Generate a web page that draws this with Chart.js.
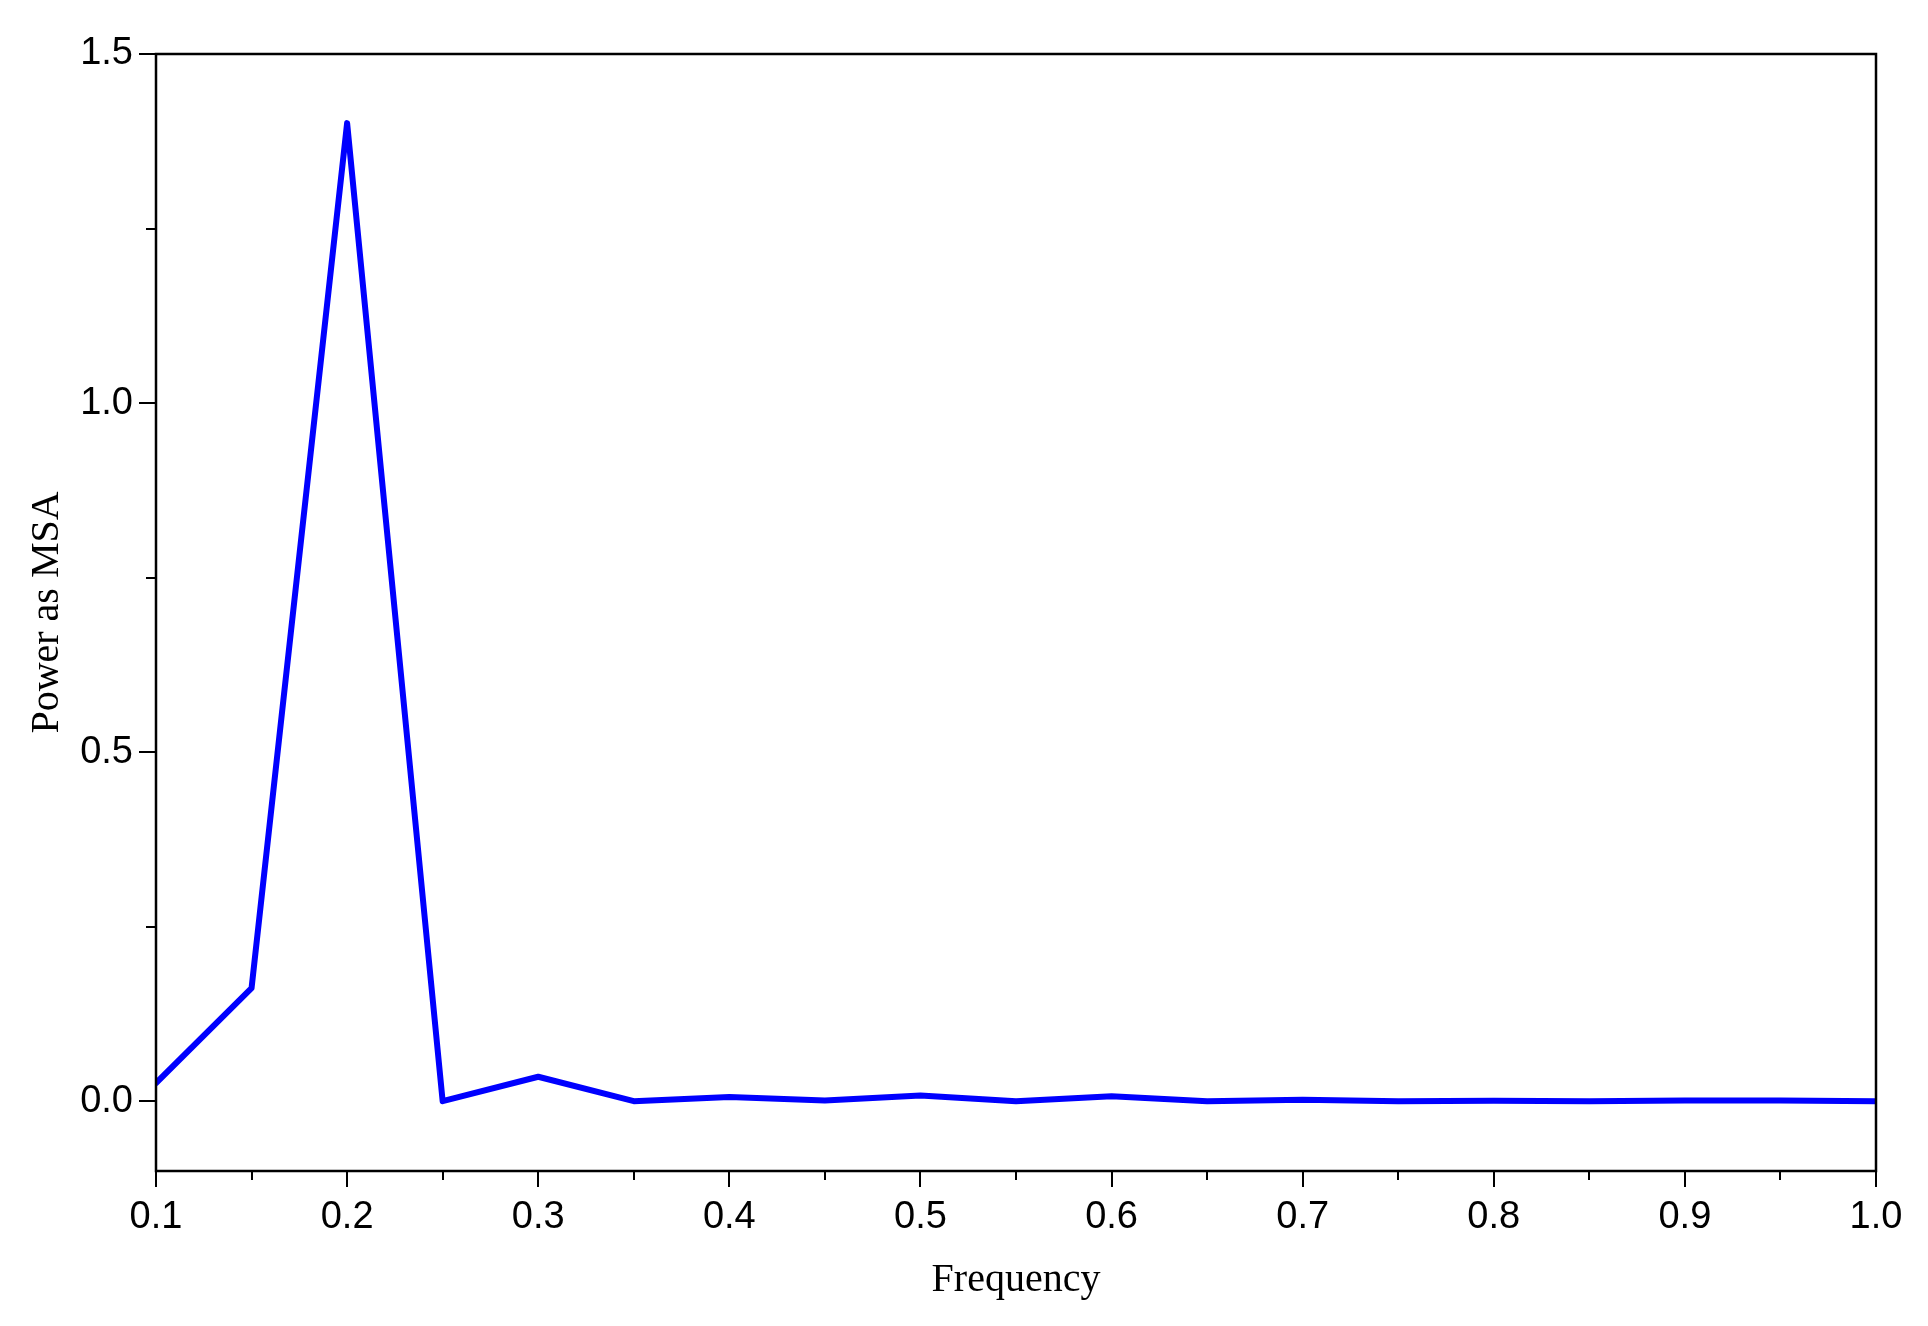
<!DOCTYPE html>
<html>
<head>
<meta charset="utf-8">
<script src="https://cdn.jsdelivr.net/npm/chart.js@4/dist/chart.umd.min.js"></script>
<style>
    html, body { margin: 0; padding: 0; background: #fff; }
    #wrap { width: 1928px; height: 1326px; }
</style>
</head>
<body>
<div id="wrap"><canvas id="powerChart"></canvas></div>
<script>
var freq = [0.1, 0.15, 0.2, 0.25, 0.3, 0.35, 0.4, 0.45, 0.5, 0.55, 0.6, 0.65, 0.7, 0.75, 0.8, 0.85, 0.9, 0.95, 1.0];
var power = [0.026, 0.162, 1.401, 0.0, 0.035, 0.0, 0.006, 0.001, 0.008, 0.0, 0.007, 0.0, 0.002, 0.0, 0.0005, 0.0, 0.001, 0.001, 0.0];

var xTicks = [0.1, 0.15, 0.2, 0.25, 0.3, 0.35, 0.4, 0.45, 0.5, 0.55, 0.6, 0.65, 0.7, 0.75, 0.8, 0.85, 0.9, 0.95, 1.0];
var xLabels = ["0.1", "", "0.2", "", "0.3", "", "0.4", "", "0.5", "", "0.6", "", "0.7", "", "0.8", "", "0.9", "", "1.0"];
var yTicks = [0, 0.25, 0.5, 0.75, 1.0, 1.25, 1.5];
var yLabels = ["0.0", "", "0.5", "", "1.0", "", "1.5"];

var points = freq.map(function (f, i) { return { x: f, y: power[i] }; });

// draws the box frame and the long/short tick marks
var frameTicks = {
    id: 'frameTicks',
    afterDraw: function (chart) {
        var ctx = chart.ctx;
        var a = chart.chartArea;
        var xs = chart.scales.x, ys = chart.scales.y;
        ctx.save();
        ctx.strokeStyle = '#000';
        ctx.lineWidth = 2.5;
        ctx.strokeRect(a.left, a.top, a.right - a.left, a.bottom - a.top);
        ctx.lineWidth = 2;
        ctx.beginPath();
        xTicks.forEach(function (v, i) {
            var px = Math.round(xs.getPixelForValue(v));
            var len = xLabels[i] ? 16 : 9;
            ctx.moveTo(px, a.bottom);
            ctx.lineTo(px, a.bottom + len);
        });
        yTicks.forEach(function (v, i) {
            var py = Math.round(ys.getPixelForValue(v));
            var len = yLabels[i] ? 17 : 10;
            ctx.moveTo(a.left, py);
            ctx.lineTo(a.left - len, py);
        });
        ctx.stroke();
        ctx.restore();
    }
};

var chart = new Chart(document.getElementById('powerChart'), {
    type: 'line',
    data: {
        datasets: [{
            label: 'Power',
            data: points,
            borderColor: '#0000ff',
            borderWidth: 6,
            borderJoinStyle: 'round',
            borderCapStyle: 'round',
            pointRadius: 0,
            tension: 0,
            fill: false
        }]
    },
    options: {
        responsive: true,
        maintainAspectRatio: false,
        animation: false,
        layout: { padding: { top: 54, right: 52, left: 0, bottom: 0 } },
        plugins: {
            legend: { display: false },
            tooltip: { enabled: false }
        },
        scales: {
            x: {
                type: 'linear',
                min: 0.1,
                max: 1.0,
                afterBuildTicks: function (scale) {
                    scale.ticks = xTicks.map(function (v) { return { value: v }; });
                },
                afterFit: function (scale) { scale.height = 155; },
                ticks: {
                    autoSkip: false,
                    maxRotation: 0,
                    padding: 8,
                    color: '#000',
                    font: { family: 'Liberation Sans', size: 38 },
                    callback: function (v, i) { return xLabels[i]; }
                },
                grid: { drawOnChartArea: false, tickLength: 16, tickColor: 'rgba(0,0,0,0)' },
                border: { display: false },
                title: {
                    display: true,
                    text: 'Frequency',
                    color: '#000',
                    padding: 22,
                    font: { family: 'Liberation Serif', size: 40 }
                }
            },
            y: {
                min: -0.1,
                max: 1.5,
                afterBuildTicks: function (scale) {
                    scale.ticks = yTicks.map(function (v) { return { value: v }; });
                },
                afterFit: function (scale) { scale.width = 156; },
                ticks: {
                    autoSkip: false,
                    padding: 6,
                    color: '#000',
                    font: { family: 'Liberation Sans', size: 38 },
                    callback: function (v, i) { return yLabels[i]; }
                },
                grid: { drawOnChartArea: false, tickLength: 17, tickColor: 'rgba(0,0,0,0)' },
                border: { display: false },
                title: {
                    display: true,
                    text: 'Power as MSA',
                    color: '#000',
                    padding: 23,
                    font: { family: 'Liberation Serif', size: 40 }
                }
            }
        }
    },
    plugins: [frameTicks]
});
</script>
</body>
</html>
